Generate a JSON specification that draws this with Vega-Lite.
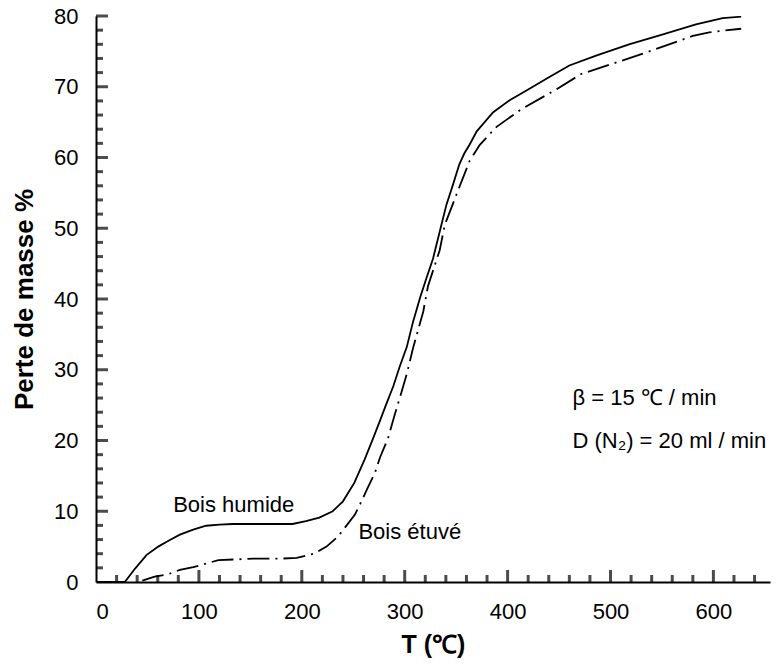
{
  "$schema": "https://vega.github.io/schema/vega-lite/v6.json",
  "width": 674,
  "height": 566,
  "autosize": "none",
  "padding": {"left": 96, "top": 16, "right": 11, "bottom": 82},
  "background": "white",
  "config": {
    "view": {"stroke": null},
    "font": "Liberation Sans",
    "axis": {"grid": false, "domainColor": "black", "tickColor": "black", "labelColor": "black", "titleColor": "black", "labelFont": "Liberation Sans", "titleFont": "Liberation Sans"}
  },
  "datasets": {
    "humide": [
      {"T": 0, "perte": 0}, {"T": 28, "perte": 0}, {"T": 38, "perte": 1.9}, {"T": 49, "perte": 3.8},
      {"T": 60.5, "perte": 5.0}, {"T": 70, "perte": 5.8}, {"T": 81.5, "perte": 6.7}, {"T": 94.5, "perte": 7.4},
      {"T": 107, "perte": 7.95}, {"T": 120, "perte": 8.1}, {"T": 133, "perte": 8.2}, {"T": 160, "perte": 8.2},
      {"T": 191, "perte": 8.2}, {"T": 204, "perte": 8.6}, {"T": 217, "perte": 9.1}, {"T": 230, "perte": 10.0},
      {"T": 240, "perte": 11.4}, {"T": 251, "perte": 14.0}, {"T": 261, "perte": 17.3}, {"T": 269, "perte": 20.2},
      {"T": 276, "perte": 22.8}, {"T": 282, "perte": 25.1}, {"T": 289, "perte": 27.7}, {"T": 295, "perte": 30.4},
      {"T": 302, "perte": 33.2}, {"T": 308, "perte": 36.7}, {"T": 315, "perte": 40.2}, {"T": 321, "perte": 42.9},
      {"T": 327.5, "perte": 45.7}, {"T": 334, "perte": 49.5}, {"T": 340.5, "perte": 53.3}, {"T": 347, "perte": 56.2},
      {"T": 353, "perte": 59.0}, {"T": 358, "perte": 60.6}, {"T": 363, "perte": 61.8}, {"T": 370, "perte": 63.7},
      {"T": 386, "perte": 66.4}, {"T": 402, "perte": 68.1}, {"T": 420, "perte": 69.6}, {"T": 441, "perte": 71.4},
      {"T": 460, "perte": 73.0}, {"T": 486, "perte": 74.4}, {"T": 518, "perte": 76.0}, {"T": 551, "perte": 77.4},
      {"T": 583, "perte": 78.8}, {"T": 609, "perte": 79.7}, {"T": 627, "perte": 79.9}
    ],
    "etuve": [
      {"T": 45, "perte": 0.2}, {"T": 57, "perte": 0.75}, {"T": 70, "perte": 1.1}, {"T": 81.5, "perte": 1.7},
      {"T": 94.5, "perte": 2.1}, {"T": 107, "perte": 2.6}, {"T": 119, "perte": 3.1}, {"T": 136.5, "perte": 3.2},
      {"T": 153, "perte": 3.3}, {"T": 178, "perte": 3.3}, {"T": 195, "perte": 3.4}, {"T": 212, "perte": 4.0},
      {"T": 224, "perte": 5.0}, {"T": 235, "perte": 6.4}, {"T": 243, "perte": 7.9}, {"T": 251.5, "perte": 9.5},
      {"T": 258, "perte": 11.4}, {"T": 264, "perte": 13.3}, {"T": 271, "perte": 15.4}, {"T": 276, "perte": 17.6},
      {"T": 284, "perte": 20.4}, {"T": 290, "perte": 23.5}, {"T": 296, "perte": 26.4}, {"T": 302, "perte": 29.4},
      {"T": 308, "perte": 33.0}, {"T": 318, "perte": 38.2}, {"T": 322.6, "perte": 41.8}, {"T": 334, "perte": 46.9},
      {"T": 339, "perte": 50.5}, {"T": 352, "perte": 55.4}, {"T": 363, "perte": 59.5}, {"T": 373, "perte": 61.8},
      {"T": 389, "perte": 64.3}, {"T": 413, "perte": 66.8}, {"T": 447, "perte": 69.6}, {"T": 471.5, "perte": 71.8},
      {"T": 505, "perte": 73.4}, {"T": 530, "perte": 74.6}, {"T": 567, "perte": 76.5}, {"T": 580, "perte": 77.2},
      {"T": 596, "perte": 77.7}, {"T": 627, "perte": 78.2}
    ],
    "labels": [
      {"T": 75, "perte": 10.9, "txt": "Bois humide"},
      {"T": 255, "perte": 7.1, "txt": "Bois étuvé"},
      {"T": 463, "perte": 26, "txt": "β = 15 ℃ / min"},
      {"T": 463, "perte": 20, "txt": "D (N₂) = 20 ml / min"}
    ],
    "xmajor": [{"T": 100}, {"T": 200}, {"T": 300}, {"T": 400}, {"T": 500}, {"T": 600}],
    "xminor": [{"T": 20}, {"T": 40}, {"T": 60}, {"T": 80}, {"T": 120}, {"T": 140}, {"T": 160}, {"T": 180},
      {"T": 220}, {"T": 240}, {"T": 260}, {"T": 280}, {"T": 320}, {"T": 340}, {"T": 360}, {"T": 380},
      {"T": 420}, {"T": 440}, {"T": 460}, {"T": 480}, {"T": 520}, {"T": 540}, {"T": 560}, {"T": 580},
      {"T": 620}, {"T": 640}],
    "ymajor": [{"perte": 10}, {"perte": 20}, {"perte": 30}, {"perte": 40}, {"perte": 50}, {"perte": 60}, {"perte": 70}, {"perte": 80}],
    "yminor": [{"perte": 2}, {"perte": 4}, {"perte": 6}, {"perte": 8}, {"perte": 12}, {"perte": 14}, {"perte": 16}, {"perte": 18},
      {"perte": 22}, {"perte": 24}, {"perte": 26}, {"perte": 28}, {"perte": 32}, {"perte": 34}, {"perte": 36}, {"perte": 38},
      {"perte": 42}, {"perte": 44}, {"perte": 46}, {"perte": 48}, {"perte": 52}, {"perte": 54}, {"perte": 56}, {"perte": 58},
      {"perte": 62}, {"perte": 64}, {"perte": 66}, {"perte": 68}, {"perte": 72}, {"perte": 74}, {"perte": 76}, {"perte": 78}]
  },
  "encoding": {
    "x": {"type": "quantitative", "scale": {"domain": [0, 655], "nice": false, "zero": false},
      "axis": {"orient": "bottom", "title": "T (℃)", "values": [0, 100, 200, 300, 400, 500, 600], "ticks": true, "tickSize": 0, "domainWidth": 2, "labelFontSize": 22, "labelPadding": 19, "titleFontSize": 25, "titleFontWeight": "bold", "titlePadding": 10}},
    "y": {"type": "quantitative", "scale": {"domain": [0, 80], "nice": false},
      "axis": {"orient": "left", "title": "Perte de masse %", "values": [0, 10, 20, 30, 40, 50, 60, 70, 80], "ticks": true, "tickSize": 0, "domainWidth": 2, "labelFontSize": 22, "labelPadding": 18, "titleFontSize": 26, "titleFontWeight": "bold", "titlePadding": 16}}
  },
  "layer": [
    {
      "data": {"name": "xmajor"},
      "mark": {"type": "tick", "color": "black", "orient": "vertical", "size": 12, "thickness": 3, "yOffset": -6},
      "encoding": {"x": {"field": "T", "type": "quantitative"}, "y": {"datum": 0}}
    },
    {
      "data": {"name": "xminor"},
      "mark": {"type": "tick", "color": "black", "orient": "vertical", "size": 7, "thickness": 3, "yOffset": -3.5},
      "encoding": {"x": {"field": "T", "type": "quantitative"}, "y": {"datum": 0}}
    },
    {
      "data": {"name": "ymajor"},
      "mark": {"type": "tick", "color": "black", "orient": "horizontal", "size": 12, "thickness": 3, "xOffset": 6},
      "encoding": {"y": {"field": "perte", "type": "quantitative"}, "x": {"datum": 0}}
    },
    {
      "data": {"name": "yminor"},
      "mark": {"type": "tick", "color": "black", "orient": "horizontal", "size": 7, "thickness": 3, "xOffset": 3.5},
      "encoding": {"y": {"field": "perte", "type": "quantitative"}, "x": {"datum": 0}}
    },
    {
      "data": {"name": "humide"},
      "mark": {"type": "line", "color": "black", "strokeWidth": 1.8, "clip": true},
      "encoding": {"x": {"field": "T", "type": "quantitative"}, "y": {"field": "perte", "type": "quantitative"}}
    },
    {
      "data": {"name": "etuve"},
      "mark": {"type": "line", "color": "black", "strokeWidth": 1.8, "strokeDash": [22, 6, 2, 6], "clip": true},
      "encoding": {"x": {"field": "T", "type": "quantitative"}, "y": {"field": "perte", "type": "quantitative"}}
    },
    {
      "data": {"name": "labels"},
      "mark": {"type": "text", "align": "left", "baseline": "middle", "fontSize": 22, "color": "black"},
      "encoding": {"x": {"field": "T", "type": "quantitative"}, "y": {"field": "perte", "type": "quantitative"}, "text": {"field": "txt"}}
    }
  ]
}
